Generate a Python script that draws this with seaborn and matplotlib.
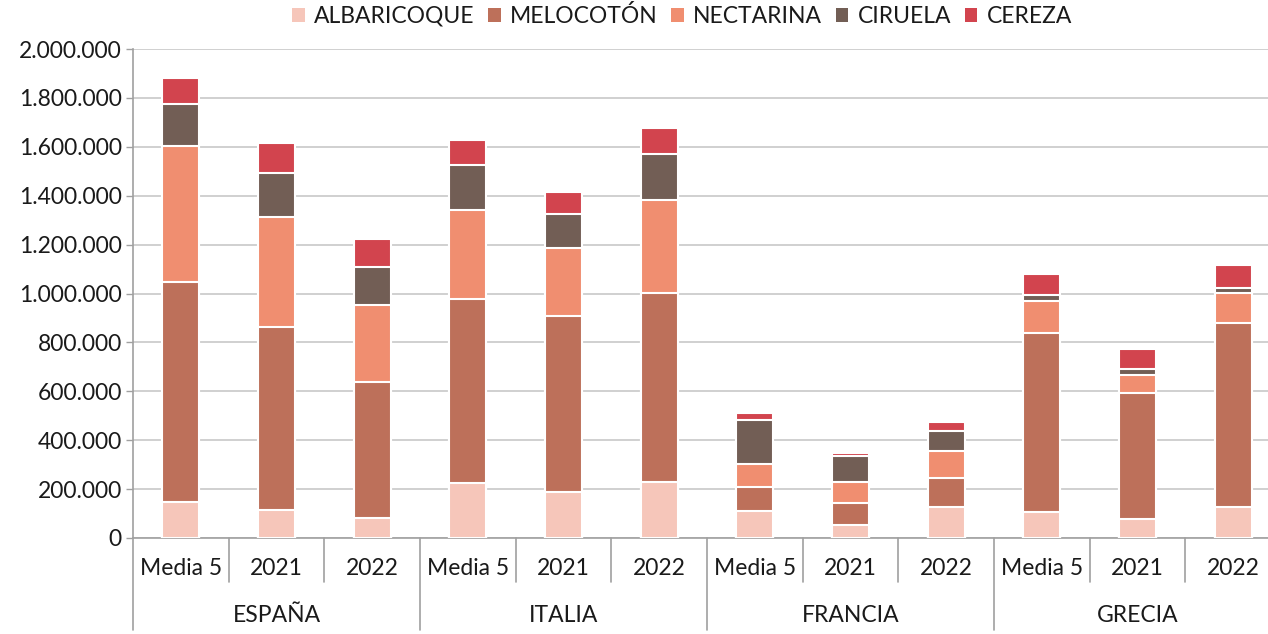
import matplotlib
matplotlib.use("Agg")
import matplotlib.pyplot as plt
import matplotlib.transforms as mtransforms
from matplotlib.patches import Patch
import seaborn as sns
import pandas as pd
import numpy as np

countries = ["ESPAÑA", "ITALIA", "FRANCIA", "GRECIA"]
periods = ["Media 5", "2021", "2022"]
fruits = ["ALBARICOQUE", "MELOCOTÓN", "NECTARINA", "CIRUELA", "CEREZA"]

# values per bar: ESPAÑA(M5,21,22), ITALIA(...), FRANCIA(...), GRECIA(...)
albaricoque = [147000, 116000, 82000, 226000, 189000, 230000, 110000, 53000, 127000, 108000, 79000, 128000]
melocoton = [900000, 748000, 557000, 751000, 720000, 773000, 100000, 91000, 118000, 729000, 513000, 750000]
nectarina = [558000, 450000, 314000, 366000, 278000, 379000, 93000, 86000, 111000, 134000, 76000, 125000]
ciruela = [170000, 178000, 157000, 183000, 138000, 187000, 180000, 107000, 83000, 23000, 22000, 18000]
cereza = [106000, 125000, 113000, 102000, 91000, 107000, 30000, 11000, 37000, 86000, 82000, 96000]

colors = ["#F6C6BA", "#BD705A", "#F08E70", "#725E55", "#D2444E"]

series = [albaricoque, melocoton, nectarina, ciruela, cereza]
bar_ids = [f"{c}|{p}" for c in countries for p in periods]
cum = np.cumsum(np.array(series), axis=0)

rows = []
for k, f in enumerate(fruits):
    for i, b in enumerate(bar_ids):
        rows.append({"bar": b, "fruit": f, "cum": cum[k, i]})
df = pd.DataFrame(rows)

sns.set_theme(style="white")
plt.rcParams["font.family"] = ["Lato", "DejaVu Sans"]
text_color = "#1A1A1A"
FS = 16.5

fig = plt.figure(figsize=(12.68, 6.34), dpi=100)
ax = fig.add_axes([133 / 1268, 96 / 634, 1148 / 1268, 489 / 634])

for k in range(len(fruits) - 1, -1, -1):
    sub = df[df["fruit"] == fruits[k]]
    sns.barplot(data=sub, x="bar", y="cum", order=bar_ids, color=colors[k],
                width=0.39, edgecolor="white", linewidth=1.5, ax=ax,
                saturation=1, zorder=3)

ax.set_xlim(-0.5, len(bar_ids) - 0.5)
ax.set_ylim(0, 2000000)
yt = np.arange(0, 2000001, 200000)
ax.set_yticks(yt)
ax.set_yticklabels([f"{int(v):,}".replace(",", ".") for v in yt], fontsize=FS,
                   color=text_color)
ax.yaxis.grid(True, color="#D0D0D0", linewidth=1.4, zorder=0)
ax.set_axisbelow(True)
ax.tick_params(axis="y", length=5, width=1, color="#A0A0A0", pad=3, left=True)
ax.set_xticks([])
ax.set_xlabel("")
ax.set_ylabel("")

for s in ["top", "right"]:
    ax.spines[s].set_visible(False)
for s in ["left", "bottom"]:
    ax.spines[s].set_color("#A0A0A0")
    ax.spines[s].set_linewidth(1.2)

trans = mtransforms.blended_transform_factory(ax.transData, ax.transAxes)
for i in range(len(bar_ids) + 1):
    x = i - 0.5
    y_end = -0.188 if i % 3 == 0 else -0.09
    ax.plot([x, x], [0, y_end], transform=trans, color="#A0A0A0", lw=1.2,
            clip_on=False)

for i, b in enumerate(bar_ids):
    ax.text(i, -0.063, b.split("|")[1], transform=trans, ha="center",
            va="center", fontsize=FS, color=text_color)
for g, c in enumerate(countries):
    ax.text(g * 3 + 1, -0.158, c, transform=trans, ha="center", va="center",
            fontsize=FS, color=text_color)

handles = [Patch(facecolor=colors[k], edgecolor="none", label=fruits[k])
           for k in range(len(fruits))]
fig.legend(handles=handles, loc="center", bbox_to_anchor=(682 / 1268, 1 - 16 / 634),
           ncol=5, frameon=False, fontsize=FS, handlelength=0.55, handleheight=0.55,
           handletextpad=0.4, columnspacing=0.6, labelcolor=text_color)

fig.savefig("out.png", dpi=100)
